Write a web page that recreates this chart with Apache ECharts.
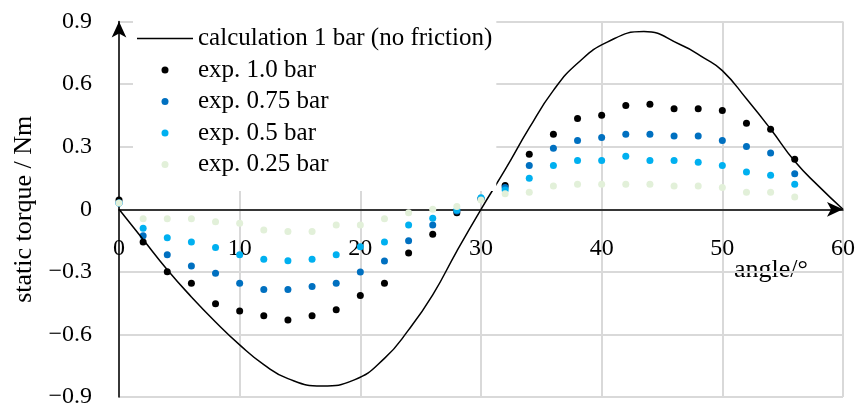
<!DOCTYPE html>
<html><head><meta charset="utf-8">
<script src="https://cdn.jsdelivr.net/npm/echarts@6/dist/echarts.min.js"></script>
<style>html,body{margin:0;padding:0;background:#fff}#c{width:861px;height:410px}</style>
</head><body><div id="c"></div>
<script>
var angles = [0,2,4,6,8,10,12,14,16,18,20,22,24,26,28,30,32,34,36,38,40,42,44,46,48,50,52,54,56];
var exp100 = [0.045,-0.157,-0.30,-0.354,-0.453,-0.488,-0.511,-0.531,-0.511,-0.482,-0.413,-0.354,-0.21,-0.12,-0.016,0.05,0.114,0.264,0.36,0.435,0.451,0.498,0.504,0.482,0.482,0.474,0.413,0.384,0.24];
var exp075 = [0.03,-0.127,-0.218,-0.272,-0.307,-0.354,-0.384,-0.384,-0.37,-0.354,-0.301,-0.248,-0.151,-0.075,-0.008,0.05,0.104,0.21,0.293,0.33,0.344,0.36,0.36,0.352,0.352,0.33,0.301,0.27,0.171];
var exp050 = [0.03,-0.091,-0.136,-0.157,-0.183,-0.218,-0.24,-0.247,-0.24,-0.218,-0.179,-0.157,-0.075,-0.043,-0.003,0.055,0.093,0.149,0.21,0.234,0.234,0.254,0.234,0.234,0.226,0.21,0.179,0.163,0.12];
var exp025 = [0.03,-0.045,-0.045,-0.045,-0.06,-0.067,-0.099,-0.107,-0.107,-0.075,-0.075,-0.045,-0.016,0.0,0.013,0.045,0.075,0.082,0.112,0.12,0.12,0.12,0.12,0.112,0.112,0.104,0.082,0.082,0.059];
var calcX = [0,2,4,6,8,10,12,14,16.8,19.5,22,24,26,28,30,32,34,36,38,40.5,43.5,46.5,48.5,50,52,54,56,58,60];
var calcY = [0,-0.145,-0.29,-0.42,-0.54,-0.65,-0.745,-0.812,-0.847,-0.818,-0.715,-0.578,-0.41,-0.20,0,0.19,0.39,0.57,0.70,0.803,0.852,0.79,0.725,0.665,0.53,0.385,0.23,0.11,0];
var names = ['calculation 1 bar (no friction)','exp. 1.0 bar','exp. 0.75 bar','exp. 0.5 bar','exp. 0.25 bar'];

function pairs(xs, ys){ return xs.map(function(x,i){ return [x, ys[i]]; }); }
var FONT = 'Liberation Serif';
var GRID_TOP = 21.6, GRID_BOTTOM = 13, H = 410;
var plotH = H - GRID_TOP - GRID_BOTTOM;
var chart = echarts.init(document.getElementById('c'));
function scatter(name, data, color){
  return {name:name, type:'scatter', data:pairs(angles,data), symbol:'circle', symbolSize:7,
    itemStyle:{color:color, opacity:1}, silent:true};
}
chart.setOption({
  animation:false,
  textStyle:{fontFamily:FONT},
  grid:{left:119, right:18, top:GRID_TOP, bottom:GRID_BOTTOM, containLabel:false, outerBoundsMode:'none'},
  xAxis:{type:'value', min:0, max:60, interval:10, position:'bottom', offset:-plotH/2,
    axisLine:{onZero:false, lineStyle:{color:'#000', width:1.5}, symbol:['none','arrow'], symbolSize:[11,16]},
    axisTick:{show:false},
    axisLabel:{color:'#000', fontSize:24, fontFamily:FONT, margin:27},
    splitLine:{show:true, lineStyle:{color:'#d9d9d9', width:2}}
  },
  yAxis:{type:'value', min:-0.9, max:0.9, interval:0.3,
    name:'static torque / Nm', nameLocation:'middle', nameGap:48,
    nameTextStyle:{color:'#000', fontSize:26, fontFamily:FONT},
    axisLine:{show:true, onZero:false, lineStyle:{color:'#000', width:1.5}, symbol:['none','arrow'], symbolSize:[11,16]},
    axisTick:{show:false},
    axisLabel:{color:'#000', fontSize:24, fontFamily:FONT, margin:27,
      formatter:function(v){ if(Math.abs(v)<1e-9) return '0'; return (v<0?'\u2212':'')+Math.abs(v).toFixed(1); }},
    splitLine:{show:true, lineStyle:{color:'#d9d9d9', width:2}}
  },
  legend:{orient:'vertical', left:133, top:20, itemWidth:56, itemHeight:7, itemGap:6.5,
    data:[{name:names[0], icon:'path://M0,0L100,0L100,2.6L0,2.6Z'}, names[1], names[2], names[3], names[4]],
    backgroundColor:'#fff', padding:[6,4,14,4],
    textStyle:{color:'#000', fontSize:25, fontFamily:FONT, lineHeight:25}},
  graphic:[{type:'text', left:734, top:257, style:{text:'angle/\u00b0', fill:'#000', font:'26px "Liberation Serif"'}}],
  series:[
    {name:names[0], type:'line', data:pairs(calcX,calcY), smooth:0.5, showSymbol:false, symbol:'none',
      lineStyle:{color:'#000', width:1.5}, itemStyle:{color:'#000'}, silent:true},
    scatter(names[1], exp100, '#000000'),
    scatter(names[2], exp075, '#0070C0'),
    scatter(names[3], exp050, '#00B0F0'),
    scatter(names[4], exp025, '#E2F0D9')
  ]
});
</script></body></html>
